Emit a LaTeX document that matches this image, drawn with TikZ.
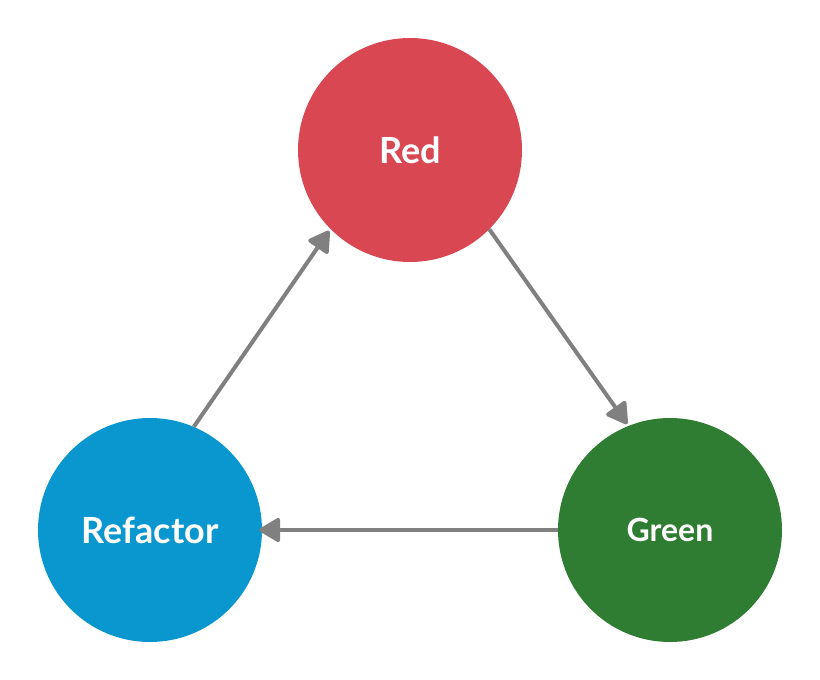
\documentclass[tikz,border=0pt]{standalone}
\usepackage{fontspec}
\setmainfont{Lato}
\usetikzlibrary{arrows.meta}
\definecolor{cred}{RGB}{217,71,83}
\definecolor{cblue}{RGB}{10,150,206}
\definecolor{cgreen}{RGB}{46,125,50}
\definecolor{cgray}{RGB}{128,128,128}
\begin{document}
\begin{tikzpicture}[x=1pt,y=-1pt,
  stage/.style={circle,minimum size=224pt,inner sep=0pt,text=white,font=\bfseries\fontsize{36}{40}\selectfont},
  flow/.style={draw=cgray,line width=4pt,-{Triangle[length=23pt,width=26pt,round]}}]
\useasboundingbox (0,0) rectangle (820,680);
\node[stage,fill=cred] (red) at (410,150) {Red};
\node[stage,fill=cblue] (ref) at (150,530) {Refactor};
\node[stage,fill=cgreen,font=\bfseries\fontsize{32}{36}\selectfont] (green) at (670,530) {Green};
\draw[flow] (ref.67.5) -- ([shift={(-135:2pt)}]red.225);
\draw[flow] (red.-45) -- ([shift={(112.5:2pt)}]green.112.5);
\draw[flow] (green.180) -- ([shift={(-3pt,0)}]ref.0);
\end{tikzpicture}
\end{document}
